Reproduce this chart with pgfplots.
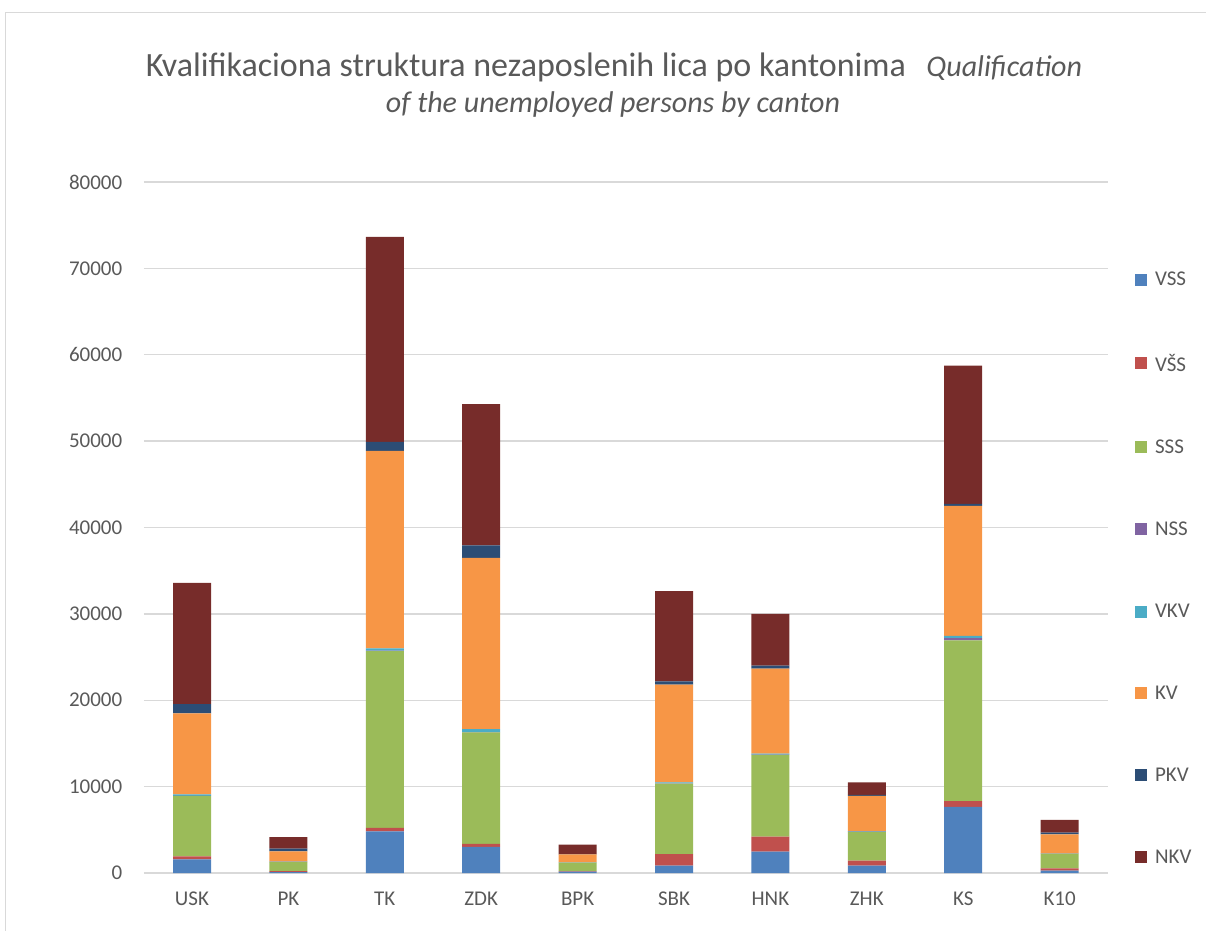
\documentclass[border=0pt]{standalone}
\usepackage{fontspec}
\setmainfont{Carlito}
\usepackage{pgfplots}
\usepackage{pgfplotstable}
\pgfplotsset{compat=1.18}
\definecolor{cVSS}{HTML}{4F81BD}
\definecolor{cVSSS}{HTML}{C0504D}
\definecolor{cSSS}{HTML}{9BBB59}
\definecolor{cNSS}{HTML}{8064A2}
\definecolor{cVKV}{HTML}{4BACC6}
\definecolor{cKV}{HTML}{F79646}
\definecolor{cPKV}{HTML}{2C4D75}
\definecolor{cNKV}{HTML}{772C2A}
\definecolor{tgray}{HTML}{595959}
\definecolor{ggray}{HTML}{D9D9D9}
\pgfplotstableread{
x VSS VSSS SSS NSS VKV KV PKV NKV
0 1580 340 7000 20 160 9380 1080 14040
1 100 130 1040 10 40 1190 310 1340
2 4830 390 20480 50 250 22880 1020 23760
3 3020 350 12900 40 350 19810 1460 16340
4 150 60 980 5 30 920 50 1080
5 850 1350 8150 30 120 11310 390 10430
6 2470 1740 9460 30 120 9850 350 5980
7 850 580 3340 20 50 4100 110 1450
8 7650 660 18630 260 250 15050 250 16000
9 270 280 1700 10 10 2200 200 1490
}\datatable
\pgfplotsset{mybar/.style={fill=#1, draw=none,
  legend image code/.code={\fill[#1] (0pt,-6pt) rectangle (12pt,6pt); \path (18pt,0pt);}}}
\begin{document}
\begin{tikzpicture}
\useasboundingbox (0,0) rectangle (1206pt,930pt);
\draw[color=ggray, line width=1pt] (5pt,-20pt) rectangle (1240pt,917pt);
\node[text=tgray] at (614pt,863pt) {\fontsize{34}{36}\selectfont Kvalifikaciona struktura nezaposlenih lica po kantonima\hspace{0.6em}\fontsize{30}{36}\selectfont\textit{Qualification}};
\node[font=\fontsize{30}{36}\selectfont, text=tgray] at (613pt,825pt) {\textit{of the unemployed persons by canton}};
\begin{axis}[
  at={(143.8pt,57pt)}, anchor=south west,
  scale only axis, width=964pt, height=691pt,
  ybar stacked, bar width=38pt,
  xmin=-0.5, xmax=9.5, ymin=0, ymax=80000,
  xtick={0,...,9},
  xticklabels={USK,PK,TK,ZDK,BPK,SBK,HNK,ZHK,KS,K10},
  ytick={0,10000,...,80000},
  scaled y ticks=false,
  /pgf/number format/assume math mode=true,
  yticklabel style={/pgf/number format/1000 sep={}},
  ticklabel style={font=\fontsize{21}{24}\selectfont, text=tgray},
  yticklabel style={xshift=-18pt},
  xticklabel style={yshift=-15pt},
  major tick length=0pt,
  axis line style={draw=none},
  ymajorgrids, major grid style={draw=ggray, line width=1.3pt},
  legend style={at={(1.028,0.873)}, anchor=north west, draw=none, fill=none,
    font=\fontsize{21}{24}\selectfont, text=tgray, row sep=63pt, inner sep=0pt},
  legend cell align=left,
]
\addplot[mybar=cVSS] table[x=x,y=VSS]{\datatable};
\addplot[mybar=cVSSS] table[x=x,y=VSSS]{\datatable};
\addplot[mybar=cSSS] table[x=x,y=SSS]{\datatable};
\addplot[mybar=cNSS] table[x=x,y=NSS]{\datatable};
\addplot[mybar=cVKV] table[x=x,y=VKV]{\datatable};
\addplot[mybar=cKV] table[x=x,y=KV]{\datatable};
\addplot[mybar=cPKV] table[x=x,y=PKV]{\datatable};
\addplot[mybar=cNKV] table[x=x,y=NKV]{\datatable};
\legend{VSS,VŠS,SSS,NSS,VKV,KV,PKV,NKV}
\end{axis}
\end{tikzpicture}
\end{document}
